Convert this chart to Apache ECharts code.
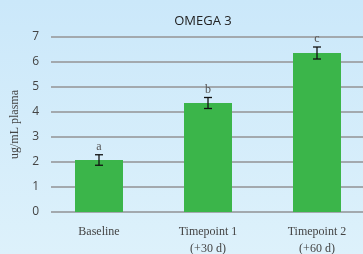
<!DOCTYPE html>
<html>
<head>
<meta charset="utf-8">
<script src="https://cdn.jsdelivr.net/npm/echarts@6/dist/echarts.min.js"></script>
<style>
  html, body { margin: 0; padding: 0; }
  #chart { width: 363px; height: 254px; background: linear-gradient(#cbe8fa, #ddf1fb); }
</style>
</head>
<body>
<div id="chart"></div>
<script>
const categories = ['Baseline', 'Timepoint 1\n(+30 d)', 'Timepoint 2\n(+60 d)']
const means = [2.08, 4.36, 6.36]
const errors = [0.21, 0.22, 0.24]
const letters = ['a', 'b', 'c']
const yTicks = [0, 1, 2, 3, 4, 5, 6, 7]

const serif = "'Liberation Serif', 'DejaVu Serif', serif"

const chart = echarts.init(document.getElementById('chart'), null, { renderer: 'canvas' })

const option = {
  backgroundColor: 'transparent',
  animation: false,
  title: {
    text: 'OMEGA 3',
    left: 198,
    top: 10,
    textAlign: 'center',
    textStyle: { color: '#222', fontSize: 13, fontWeight: 'normal', fontFamily: "'Open Sans', sans-serif" },
  },
  grid: [
    { left: 51, right: 0, top: 37, bottom: 42, outerBoundsMode: 'none', containLabel: false },
    { left: 44.5, width: 327, top: 37, bottom: 42, outerBoundsMode: 'none', containLabel: false },
  ],
  xAxis: [
    { gridIndex: 0, type: 'value', show: false },
    {
      gridIndex: 1,
      type: 'category',
      data: categories,
      axisLine: { show: false },
      axisTick: { show: false },
      axisLabel: { color: '#444', fontSize: 12, fontFamily: serif, margin: 11, lineHeight: 17 },
    },
  ],
  yAxis: [
    {
      gridIndex: 0,
      type: 'value',
      min: yTicks[0],
      max: yTicks[yTicks.length - 1],
      interval: 1,
      name: 'ug/mL plasma',
      nameLocation: 'middle',
      nameGap: 28,
      nameTextStyle: { color: '#444', fontSize: 12, fontFamily: serif },
      axisLine: { show: false },
      axisTick: { show: false },
      axisLabel: { color: '#444', fontSize: 12, fontFamily: "'Open Sans', sans-serif", margin: 12 },
      splitLine: { lineStyle: { color: '#a3a9ae', width: 2 } },
    },
    {
      gridIndex: 1,
      type: 'value',
      min: yTicks[0],
      max: yTicks[yTicks.length - 1],
      show: false,
      splitLine: { show: false },
    },
  ],
  series: [
    {
      type: 'bar',
      xAxisIndex: 1,
      yAxisIndex: 1,
      data: means,
      barWidth: 48,
      itemStyle: { color: '#3bb54a' },
    },
    {
      type: 'custom',
      xAxisIndex: 1,
      yAxisIndex: 1,
      data: means.map((m, i) => [i, m, errors[i]]),
      renderItem: (params, api) => {
        const i = api.value(0)
        const m = api.value(1)
        const e = api.value(2)
        const top = api.coord([i, m + e])
        const bot = api.coord([i, m - e])
        const hw = 4
        const style = { stroke: '#111', lineWidth: 1.3 }
        return {
          type: 'group',
          children: [
            { type: 'line', shape: { x1: top[0], y1: top[1], x2: bot[0], y2: bot[1] }, style },
            { type: 'line', shape: { x1: top[0] - hw, y1: top[1], x2: top[0] + hw, y2: top[1] }, style },
            { type: 'line', shape: { x1: bot[0] - hw, y1: bot[1], x2: bot[0] + hw, y2: bot[1] }, style },
            {
              type: 'text',
              style: {
                text: letters[params.dataIndex],
                x: top[0],
                y: top[1] - 2,
                align: 'center',
                verticalAlign: 'bottom',
                fill: '#555',
                font: "12px 'Liberation Serif', serif",
              },
            },
          ],
        }
      },
      z: 5,
    },
  ],
}

chart.setOption(option)
</script>
</body>
</html>
